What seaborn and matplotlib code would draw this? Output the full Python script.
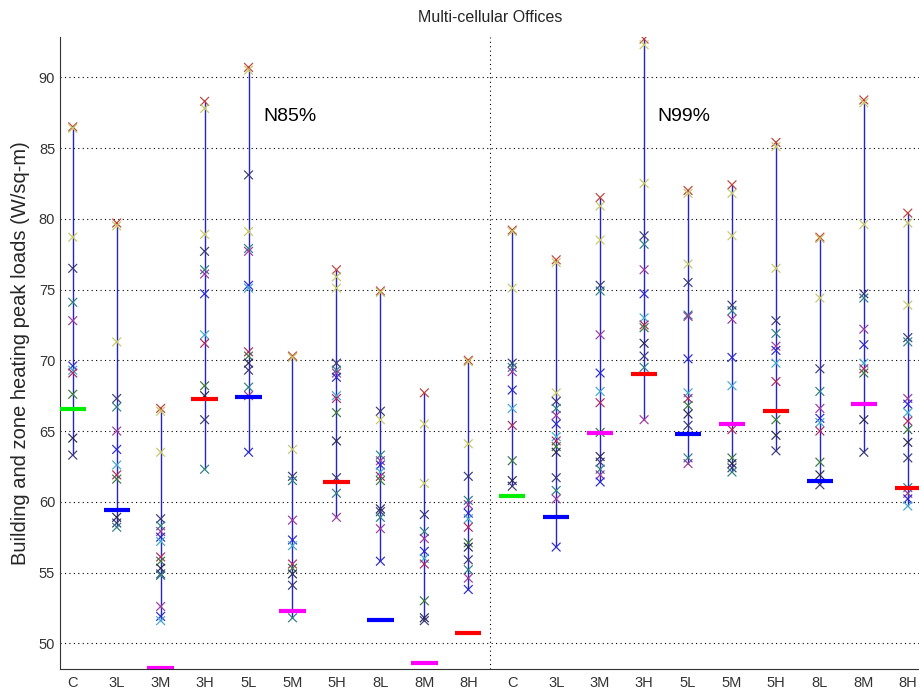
import matplotlib
matplotlib.use("Agg")
import matplotlib.pyplot as plt
import numpy as np
import pandas as pd
import seaborn as sns

# ---------------- data ----------------
categories = ["C", "3L", "3M", "3H", "5L", "5M", "5H", "8L", "8M", "8H"]
groups = ["N85%", "N99%"]

# zone peak loads (W/sq-m), N85% design condition
n85_C = [86.5, 86.4, 78.7, 76.5, 74.1, 72.8, 69.6, 69.3, 69.1, 67.6, 64.5, 63.3]
n85_3L = [79.7, 79.5, 71.3, 67.3, 66.7, 65.0, 63.7, 62.6, 61.9, 61.6, 58.9, 58.5, 58.2]
n85_3M = [66.6, 66.4, 63.5, 58.8, 58.3, 57.9, 57.5, 57.2, 56.1, 55.8, 55.3, 54.9, 54.8, 52.6, 51.9, 51.6]
n85_3H = [88.3, 87.8, 78.9, 77.7, 76.4, 76.1, 74.7, 71.8, 71.2, 68.2, 67.5, 65.8, 62.3]
n85_5L = [90.7, 90.5, 79.1, 83.1, 77.9, 77.7, 75.3, 75.1, 70.6, 70.3, 69.8, 69.3, 68.1, 67.5, 63.5]
n85_5M = [70.3, 70.2, 63.7, 61.8, 61.5, 58.7, 57.3, 56.9, 55.6, 55.3, 54.9, 54.1, 51.8]
n85_5H = [76.4, 75.9, 75.1, 69.8, 69.3, 69.1, 68.8, 67.5, 67.3, 66.3, 64.3, 61.7, 60.6, 58.9]
n85_8L = [74.9, 74.8, 65.8, 66.4, 63.3, 62.9, 62.6, 62.1, 61.8, 61.5, 59.5, 59.3, 58.9, 58.1, 55.8]
n85_8M = [67.7, 65.5, 61.3, 59.1, 57.9, 57.4, 56.5, 56.0, 55.6, 53.0, 51.8, 51.6]
n85_8H = [70.0, 69.9, 64.1, 61.8, 60.1, 59.8, 59.2, 58.8, 58.2, 57.1, 56.8, 55.9, 55.2, 54.6, 53.8]

# zone peak loads (W/sq-m), N99% design condition
n99_C = [79.2, 79.1, 75.1, 69.8, 69.5, 69.2, 67.9, 66.6, 65.4, 62.9, 61.5, 61.1]
n99_3L = [77.1, 76.9, 67.7, 67.1, 66.6, 66.1, 65.5, 64.6, 64.3, 63.9, 63.5, 61.7, 60.8, 60.2, 56.8]
n99_3M = [81.5, 80.9, 78.5, 75.3, 74.9, 71.8, 69.1, 67.8, 67.0, 64.9, 63.2, 62.8, 62.3, 61.9, 61.4]
n99_3H = [92.7, 92.3, 82.5, 78.8, 78.2, 76.4, 74.7, 73.0, 72.5, 72.3, 71.2, 70.3, 69.5, 65.8]
n99_5L = [82.0, 81.8, 76.8, 75.5, 73.2, 73.1, 70.1, 67.7, 67.3, 66.8, 66.2, 65.4, 63.1, 62.7]
n99_5M = [82.4, 81.8, 78.8, 73.9, 73.5, 72.9, 70.2, 68.2, 65.1, 63.1, 62.7, 62.4, 62.1]
n99_5H = [85.4, 85.1, 76.5, 72.8, 71.9, 71.0, 70.7, 69.8, 68.5, 65.8, 64.7, 63.6]
n99_8L = [78.7, 78.6, 74.4, 69.4, 67.8, 66.6, 65.9, 65.6, 65.0, 62.8, 61.9, 61.2]
n99_8M = [88.4, 88.2, 79.6, 74.7, 74.4, 72.2, 71.1, 69.8, 69.4, 69.1, 65.8, 63.5]
n99_8H = [80.4, 79.7, 73.9, 71.6, 71.3, 67.3, 66.9, 66.3, 65.7, 65.1, 64.2, 63.1, 61.0, 60.6, 60.2, 59.7]

# building-level peak loads (thick bars)
n85_building = [66.55, 59.4, 48.25, 67.25, 67.4, 52.25, 61.4, 51.65, 48.6, 50.7]
n99_building = [60.4, 58.95, 64.85, 69.0, 64.8, 65.5, 66.4, 61.45, 66.9, 61.0]

n85_zones = [n85_C, n85_3L, n85_3M, n85_3H, n85_5L, n85_5M, n85_5H, n85_8L, n85_8M, n85_8H]
n99_zones = [n99_C, n99_3L, n99_3M, n99_3H, n99_5L, n99_5M, n99_5H, n99_8L, n99_8M, n99_8H]

# ---------------- styles ----------------
top_colors = ["#c0403a", "#c8c860", "#c8c860"]
cycle_colors = ["#3a3a7a", "#2e8080", "#9a3aa0", "#2a2ad0", "#40a8d0",
                "#b02a60", "#3a7a3a", "#2a2a55"]
bar_colors = {"C": "#00ee00", "L": "#0000ff", "M": "#ff00ff", "H": "#ff0000"}


def tone_for(rank):
    if rank < len(top_colors):
        return top_colors[rank]
    return cycle_colors[(rank - len(top_colors)) % len(cycle_colors)]


# ---------------- table ----------------
rows = []
for g, zone_sets in enumerate([n85_zones, n99_zones]):
    for i, vals in enumerate(zone_sets):
        pos = g * len(categories) + i + 1
        for r, v in enumerate(vals):
            rows.append({"pos": pos, "load": v, "tone": tone_for(r)})
df = pd.DataFrame(rows)
bars = pd.DataFrame({
    "pos": np.arange(1, 2 * len(categories) + 1),
    "load": n85_building + n99_building,
    "cat": categories * 2,
})

# ---------------- plot ----------------
sns.set_style("white")
plt.rcParams["font.family"] = ["Liberation Sans", "DejaVu Sans"]

W, H = 920, 693
fig = plt.figure(figsize=(W / 100, H / 100), dpi=100)
ax = fig.add_axes([60 / W, (H - 669.3) / H, 861.4 / W, (669.3 - 36.7) / H])

# grid
for yv in range(50, 95, 5):
    ax.axhline(yv, color="black", lw=0.8, ls=(0, (1, 3)), zorder=1)
ax.axvline(10.5, color="black", lw=0.8, ls=(0, (1, 3)), zorder=1)

# range lines
rng = df.groupby("pos")["load"].agg(["min", "max"]).reset_index()
ax.vlines(rng["pos"], rng["min"], rng["max"], color="#2424c8", lw=1.0, zorder=2)

# zone markers
tones = list(dict.fromkeys(df["tone"]))
sns.scatterplot(data=df, x="pos", y="load", hue="tone", palette={t: t for t in tones},
                marker="x", s=40, linewidth=0.85, legend=False, ax=ax, zorder=3)

# building bars
for _, b in bars.iterrows():
    ax.hlines(b["load"], b["pos"] - 0.3, b["pos"] + 0.3,
              color=bar_colors[b["cat"][-1]], lw=3.0, zorder=4)

ax.set_xlim(0.71, 20.31)
ax.set_ylim(48.16, 92.87)
ax.set_xticks(np.arange(1, 21))
ax.set_xticklabels(categories * 2)
ax.set_yticks(np.arange(50, 95, 5))
ax.tick_params(direction="in", length=4, labelsize=10.5, labelcolor="#333333",
               color="#333333", width=0.8)
ax.tick_params(axis="x", pad=5)
ax.set_xlabel("")
ax.set_ylabel("Building and zone heating peak loads (W/sq-m)", fontsize=14.5, labelpad=6)
sns.despine(ax=ax)
for s in ["left", "bottom"]:
    ax.spines[s].set_color("#333333")
    ax.spines[s].set_linewidth(0.8)

ax.text(5.33, 87.2, groups[0], fontsize=14, va="center", ha="left", color="black")
ax.text(14.3, 87.2, groups[1], fontsize=14, va="center", ha="left", color="black")
fig.text(490 / W, 1 - 18 / H, "Multi-cellular Offices", fontsize=11.5, ha="center", va="center")

fig.savefig("out.png", dpi=100)
